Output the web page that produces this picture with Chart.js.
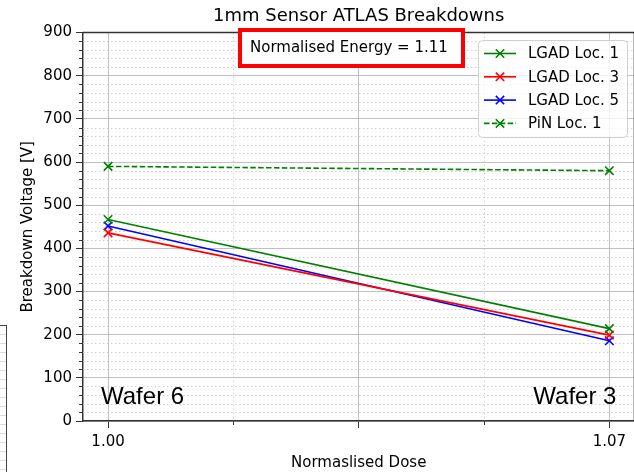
<!DOCTYPE html>
<html><head><meta charset="utf-8">
<script src="https://cdn.jsdelivr.net/npm/chart.js@4/dist/chart.umd.min.js"></script>
<style>
html,body{margin:0;padding:0;background:#fff;overflow:hidden;}
#wrap{position:relative;width:634px;height:472px;overflow:hidden;background:#fff;}
#c{position:absolute;left:0;top:0;}
#sliver{position:absolute;left:-4px;top:325px;width:10px;height:160px;border-top:1.5px solid #444;border-right:1.5px solid #444;
background:repeating-linear-gradient(to bottom, transparent 0, transparent 8px, #ddd 8px, #ddd 9px);}
</style></head>
<body><div id="wrap"><canvas id="c" width="642" height="472"></canvas><div id="sliver"></div></div>
<script>
const doses = [1.00, 1.07];
const lgadLoc1 = [467, 214];
const lgadLoc3 = [436, 199];
const lgadLoc5 = [452, 186];
const pinLoc1 = [590, 580];
const seriesNames = ['LGAD Loc. 1', 'LGAD Loc. 3', 'LGAD Loc. 5', 'PiN Loc. 1'];
const xMajorTicks = [1.00, 1.035, 1.07];
const xMajorTickLabels = ['1.00', '', '1.07'];
const xMinorTicks = [1.0175, 1.0525];
const yMajorTicks = [0, 100, 200, 300, 400, 500, 600, 700, 800, 900];
const yMinorTicks = [];
for (let v = 0; v <= 900; v += 20) { if (v % 100 !== 0) yMinorTicks.push(v); }
const chartTitle = '1mm Sensor ATLAS Breakdowns';
const xTitle = 'Normaslised Dose';
const yTitle = 'Breakdown Voltage [V]';
const annotationText = 'Normalised Energy = 1.11';
const waferLabels = ['Wafer 6', 'Wafer 3'];

const FONT = "'DejaVu Sans', sans-serif";
const pts = arr => doses.map((d, i) => ({x: d, y: arr[i]}));

function mk(label, arr, color, dash) {
  return {label, data: pts(arr), borderColor: color, backgroundColor: color,
    borderWidth: 1.6, borderDash: dash || [], pointStyle: 'crossRot', pointRadius: 6,
    pointBorderWidth: 1.6, pointBorderColor: color, tension: 0, fill: false};
}

const extras = {
  id: 'extras',
  beforeDatasetsDraw(chart) {
    const ctx = chart.ctx, a = chart.chartArea, xs = chart.scales.x, ys = chart.scales.y;
    ctx.save();
    ctx.strokeStyle = '#c4c4c4'; ctx.lineWidth = 0.8; ctx.setLineDash([1.5, 2.5]);
    yMinorTicks.forEach(v => { const y = Math.round(ys.getPixelForValue(v)) + 0.5;
      ctx.beginPath(); ctx.moveTo(a.left, y); ctx.lineTo(a.right, y); ctx.stroke(); });
    xMinorTicks.forEach(v => { const x = Math.round(xs.getPixelForValue(v)) + 0.5;
      ctx.beginPath(); ctx.moveTo(x, a.top); ctx.lineTo(x, a.bottom); ctx.stroke(); });
    ctx.setLineDash([]); ctx.strokeStyle = '#333'; ctx.lineWidth = 1;
    yMinorTicks.forEach(v => { const y = Math.round(ys.getPixelForValue(v)) + 0.5;
      ctx.beginPath(); ctx.moveTo(a.left - 4, y); ctx.lineTo(a.left, y); ctx.stroke(); });
    xMinorTicks.forEach(v => { const x = Math.round(xs.getPixelForValue(v)) + 0.5;
      ctx.beginPath(); ctx.moveTo(x, a.bottom); ctx.lineTo(x, a.bottom + 4); ctx.stroke(); });
    ctx.strokeStyle = '#333'; ctx.lineWidth = 1.5;
    ctx.beginPath(); ctx.moveTo(a.left, a.top); ctx.lineTo(a.right, a.top); ctx.stroke();
    ctx.beginPath(); ctx.moveTo(a.right, a.top); ctx.lineTo(a.right, a.bottom); ctx.stroke();
    ctx.restore();
  },
  afterDraw(chart) {
    const ctx = chart.ctx, a = chart.chartArea;
    ctx.save();
    // wafer labels
    ctx.fillStyle = '#000'; ctx.font = "24px 'Liberation Sans', Arial, sans-serif";
    ctx.textBaseline = 'alphabetic';
    ctx.textAlign = 'left'; ctx.fillText(waferLabels[0], a.left + 18, a.bottom - 17);
    ctx.textAlign = 'right'; ctx.fillText(waferLabels[1], a.right - 18, a.bottom - 17);
    // annotation box
    const bx = 240, by = 30, bw = 223, bh = 36;
    ctx.fillStyle = '#fff'; ctx.fillRect(bx, by, bw, bh);
    ctx.strokeStyle = '#ff0000'; ctx.lineWidth = 4; ctx.strokeRect(bx, by, bw, bh);
    ctx.fillStyle = '#000'; ctx.font = "15px " + FONT; ctx.textAlign = 'left'; ctx.textBaseline = 'middle';
    ctx.fillText(annotationText, 250, by + bh / 2);
    // legend
    const lx = 478.5, ly = 40.5, lw = 149, lh = 97, r = 4;
    ctx.beginPath();
    ctx.moveTo(lx + r, ly); ctx.lineTo(lx + lw - r, ly); ctx.quadraticCurveTo(lx + lw, ly, lx + lw, ly + r);
    ctx.lineTo(lx + lw, ly + lh - r); ctx.quadraticCurveTo(lx + lw, ly + lh, lx + lw - r, ly + lh);
    ctx.lineTo(lx + r, ly + lh); ctx.quadraticCurveTo(lx, ly + lh, lx, ly + lh - r);
    ctx.lineTo(lx, ly + r); ctx.quadraticCurveTo(lx, ly, lx + r, ly); ctx.closePath();
    ctx.fillStyle = 'rgba(255,255,255,0.8)'; ctx.fill();
    ctx.strokeStyle = '#d0d0d0'; ctx.lineWidth = 1; ctx.stroke();
    chart.data.datasets.forEach((ds, i) => {
      const y = 53.5 + i * 23.3;
      ctx.strokeStyle = ds.borderColor; ctx.lineWidth = 1.6; ctx.setLineDash(ds.borderDash);
      ctx.beginPath(); ctx.moveTo(484, y); ctx.lineTo(516, y); ctx.stroke();
      ctx.setLineDash([]);
      const m = 4.2;
      ctx.beginPath(); ctx.moveTo(500 - m, y - m); ctx.lineTo(500 + m, y + m);
      ctx.moveTo(500 - m, y + m); ctx.lineTo(500 + m, y - m); ctx.stroke();
      ctx.fillStyle = '#000'; ctx.font = "15px " + FONT; ctx.textAlign = 'left'; ctx.textBaseline = 'middle';
      ctx.fillText(ds.label, 528, y + 1);
    });
    ctx.restore();
  }
};

new Chart(document.getElementById('c'), {
  type: 'line',
  data: {
    datasets: [
      mk(seriesNames[0], lgadLoc1, '#008000'),
      mk(seriesNames[1], lgadLoc3, '#ff0000'),
      mk(seriesNames[2], lgadLoc5, '#0000ff'),
      mk(seriesNames[3], pinLoc1, '#008000', [5.5, 2.4])
    ]
  },
  options: {
    responsive: false, animation: false, devicePixelRatio: 1,
    layout: {padding: {left: 0, right: 0, top: 0, bottom: 0}},
    plugins: {
      legend: {display: false}, tooltip: {enabled: false},
      title: {display: true, text: chartTitle, color: '#000', fullSize: false,
        font: {family: FONT, size: 18, weight: 'normal'}, padding: {top: 6, bottom: 5}}
    },
    scales: {
      x: {type: 'linear', min: 0.9965, max: 1.0735,
        afterBuildTicks: s => { s.ticks = xMajorTicks.map(v => ({value: v})); },
        ticks: {color: '#000', font: {family: FONT, size: 15}, padding: 5, maxRotation: 0, autoSkip: false,
          callback: (v, i) => xMajorTickLabels[i]},
        grid: {color: '#b0b0b0', lineWidth: 0.8, tickLength: 7, tickColor: '#333', tickWidth: 1},
        border: {color: '#333', width: 1.5},
        title: {display: true, text: xTitle, color: '#000', font: {family: FONT, size: 15}, padding: {top: 0, bottom: 0}},
        afterFit: s => { s.height = 51; }
      },
      y: {min: 0, max: 900,
        afterBuildTicks: s => { s.ticks = yMajorTicks.map(v => ({value: v})); },
        ticks: {color: '#000', font: {family: FONT, size: 15}, padding: 4, autoSkip: false},
        grid: {color: '#b0b0b0', lineWidth: 0.8, tickLength: 7, tickColor: '#333', tickWidth: 1},
        border: {color: '#333', width: 1.5},
        title: {display: true, text: yTitle, color: '#000', font: {family: FONT, size: 15}, padding: {top: 19, bottom: 0}},
        afterFit: s => { s.width = 83; }
      }
    }
  },
  plugins: [extras]
});
</script>
</body></html>
